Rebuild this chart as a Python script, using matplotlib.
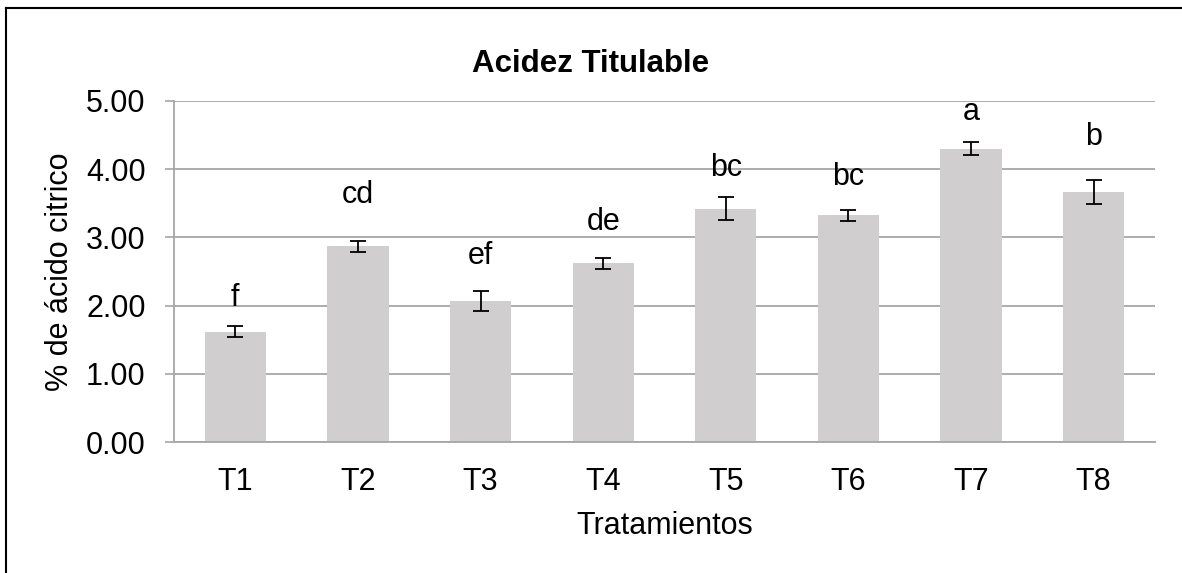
import numpy as np
import matplotlib.pyplot as plt
from matplotlib.lines import Line2D

plt.rcParams['font.family'] = ['Liberation Sans', 'DejaVu Sans']

# data
tratamientos = ['T1', 'T2', 'T3', 'T4', 'T5', 'T6', 'T7', 'T8']
acidez = [1.62, 2.87, 2.07, 2.62, 3.42, 3.32, 4.30, 3.67]
error = [0.075, 0.078, 0.145, 0.078, 0.17, 0.078, 0.10, 0.175]
letras = ['f', 'cd', 'ef', 'de', 'bc', 'bc', 'a', 'b']
letra_y = [2.11, 3.62, 2.73, 3.22, 4.01, 3.88, 4.83, 4.47]
yticks = [0, 1, 2, 3, 4, 5]

grid_col = '#A6A6A6'

fig = plt.figure(figsize=(11.82, 5.73), dpi=100)
ax = fig.add_axes([174/1182, 1-442.3/573, (1155-174)/1182, (442.3-100.7)/573])

x = np.arange(len(tratamientos))
ax.bar(x, acidez, width=0.5, color='#D0CECE', zorder=2)
ax.errorbar(x, acidez, yerr=error, fmt='none', ecolor='black', elinewidth=1.3,
            capsize=6, capthick=1.3, zorder=3)

for xi, lt, ly in zip(x, letras, letra_y):
    ax.text(xi, ly, lt, ha='center', va='center', fontsize=22, zorder=4)

ax.set_xlim(-0.5, len(tratamientos) - 0.5)
ax.set_ylim(0, 5)
ax.set_yticks(yticks)
ax.set_yticklabels(['%.2f' % v for v in yticks], fontsize=22)
ax.set_xticks(x)
ax.set_xticklabels(tratamientos, fontsize=22)
ax.tick_params(axis='x', length=0, pad=18)
ax.tick_params(axis='y', length=6.5, width=1.2, color=grid_col, pad=14)

ax.yaxis.grid(True, color=grid_col, linewidth=1.3, zorder=0)
ax.set_axisbelow(True)
for s in ['top', 'right']:
    ax.spines[s].set_visible(False)
for s in ['left', 'bottom']:
    ax.spines[s].set_color(grid_col)
    ax.spines[s].set_linewidth(1.3)

ax.set_xlabel('Tratamientos', fontsize=22, labelpad=10)
ax.set_ylabel('% de ácido citrico', fontsize=22, labelpad=8)
fig.text(0.5, 1-71.7/573, 'Acidez Titulable', ha='center', va='baseline',
         fontsize=22.5, fontweight='bold')

# chart border (top and left)
fig.add_artist(Line2D([6/1182, 6/1182], [0, 1-8/573], transform=fig.transFigure,
                      color='black', linewidth=1.5))
fig.add_artist(Line2D([6/1182, 1], [1-8/573, 1-8/573], transform=fig.transFigure,
                      color='black', linewidth=1.5))

fig.savefig('out.png', dpi=100)
